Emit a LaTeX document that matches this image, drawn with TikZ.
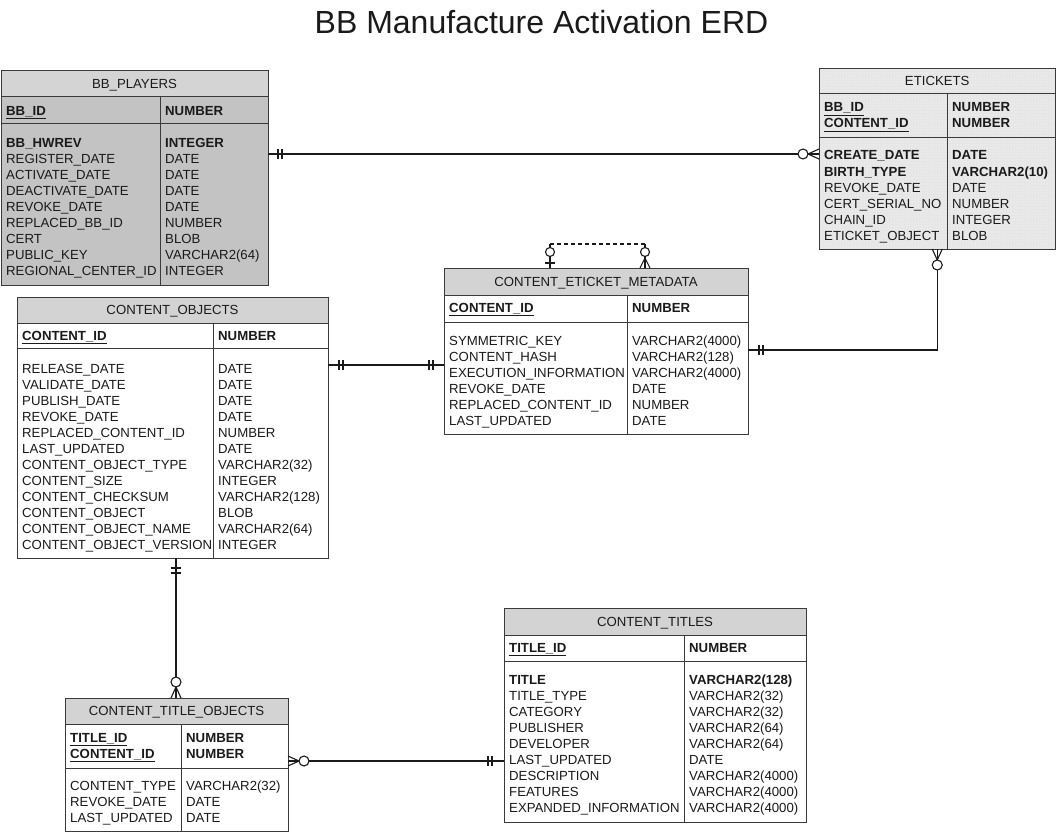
\documentclass[tikz,border=0pt]{standalone}
\usepackage{fontspec}
\setmainfont{Liberation Sans}
\usetikzlibrary{patterns,calc}
\definecolor{hdrgray}{HTML}{D3D3D3}
\definecolor{bpbody}{HTML}{C3C3C3}
\definecolor{bphdr}{HTML}{D4D4D4}
\definecolor{etfill}{HTML}{E6E6E6}
\definecolor{border}{HTML}{3A3A3A}
\definecolor{ink}{HTML}{1A1A1A}
\tikzset{
  tblbox/.style={rectangle, anchor=north west, inner sep=0pt, outer sep=0pt, draw=none},
  frame/.style={draw=border, line width=1pt},
  fld/.style={anchor=base west, inner sep=0pt, text=ink, font=\fontsize{13.2}{15}\selectfont},
  fldb/.style={fld, font=\fontsize{13.2}{15}\selectfont\bfseries},
  ttl/.style={anchor=base, inner sep=0pt, text=ink, font=\fontsize{13.2}{15}\selectfont},
  rel/.style={draw=ink, line width=1.1pt},
  ring/.style={rel, fill=white},
  selfdash/.style={rel, dash pattern=on 4pt off 3pt}
}
\begin{document}
\begin{tikzpicture}[x=1pt,y=-1pt]
\useasboundingbox[fill=white] (0,0) rectangle (1057,832);

\node[anchor=base, inner sep=0pt, text=ink, font=\fontsize{32}{38}\selectfont] (title) at (541.5,34) {BB Manufacture Activation ERD};

% ---------------- BB_PLAYERS ----------------
\node[tblbox, fill=bpbody, minimum width=267pt, minimum height=214pt] (bp) at (1,71) {};
\fill[bphdr] (1,71) rectangle (268,97);
\draw[frame] (1,97) -- (268,97) (1,124) -- (268,124) (160,97) -- (160,285);
\draw[frame] (bp.north west) rectangle (bp.south east);
\node[ttl] (bp-title) at (134.5,89) {BB\_PLAYERS};
\node[fldb] (bp-k0) at (6,115.5) {\underline{BB\_ID}};
\node[fldb] (bp-kt0) at (165,115.5) {NUMBER};
\node[fldb] (bp-b0) at (6,147) {BB\_HWREV};
\node[fldb] (bp-bt0) at (165,147) {INTEGER};
\foreach \n/\t [count=\i from 1] in {REGISTER\_DATE/DATE, ACTIVATE\_DATE/DATE, DEACTIVATE\_DATE/DATE, REVOKE\_DATE/DATE, REPLACED\_BB\_ID/NUMBER, CERT/BLOB, PUBLIC\_KEY/VARCHAR2(64), REGIONAL\_CENTER\_ID/INTEGER}{
  \node[fld] (bp-n\i) at (6,{147+16*\i}) {\n};
  \node[fld] (bp-t\i) at (165,{147+16*\i}) {\t};
}

% ---------------- ETICKETS ----------------
\node[tblbox, fill=etfill, minimum width=236.5pt, minimum height=180pt] (et) at (819,69) {};
\fill[pattern=dots, pattern color=white] (819,69) rectangle (1055.5,249);
\draw[frame] (819,94) -- (1055.5,94) (819,138) -- (1055.5,138) (947,94) -- (947,249);
\draw[frame] (et.north west) rectangle (et.south east);
\node[ttl] (et-title) at (937.25,86) {ETICKETS};
\node[fldb] (et-k0) at (824,112) {\underline{BB\_ID}};
\node[fldb] (et-kt0) at (952,112) {NUMBER};
\node[fldb] (et-k1) at (824,128) {\underline{CONTENT\_ID}};
\node[fldb] (et-kt1) at (952,128) {NUMBER};
\node[fldb] (et-b0) at (824,160) {CREATE\_DATE};
\node[fldb] (et-bt0) at (952,160) {DATE};
\node[fldb] (et-b1) at (824,176) {BIRTH\_TYPE};
\node[fldb] (et-bt1) at (952,176) {VARCHAR2(10)};
\foreach \n/\t [count=\i from 2] in {REVOKE\_DATE/DATE, CERT\_SERIAL\_NO/NUMBER, CHAIN\_ID/INTEGER, ETICKET\_OBJECT/BLOB}{
  \node[fld] (et-n\i) at (824,{160+16*\i}) {\n};
  \node[fld] (et-t\i) at (952,{160+16*\i}) {\t};
}

% ---------------- CONTENT_ETICKET_METADATA ----------------
\node[tblbox, fill=white, minimum width=304pt, minimum height=166pt] (cm) at (444,268) {};
\fill[hdrgray] (444,268) rectangle (748,295);
\draw[frame] (444,295) -- (748,295) (444,322) -- (748,322) (627,295) -- (627,434);
\draw[frame] (cm.north west) rectangle (cm.south east);
\node[ttl] (cm-title) at (596,286) {CONTENT\_ETICKET\_METADATA};
\node[fldb] (cm-k0) at (449,312.5) {\underline{CONTENT\_ID}};
\node[fldb] (cm-kt0) at (632,312.5) {NUMBER};
\foreach \n/\t [count=\i from 0] in {SYMMETRIC\_KEY/VARCHAR2(4000), CONTENT\_HASH/VARCHAR2(128), EXECUTION\_INFORMATION/VARCHAR2(4000), REVOKE\_DATE/DATE, REPLACED\_CONTENT\_ID/NUMBER, LAST\_UPDATED/DATE}{
  \node[fld] (cm-n\i) at (449,{345+16*\i}) {\n};
  \node[fld] (cm-t\i) at (632,{345+16*\i}) {\t};
}

% ---------------- CONTENT_OBJECTS ----------------
\node[tblbox, fill=white, minimum width=311pt, minimum height=261pt] (co) at (17,297) {};
\fill[hdrgray] (17,297) rectangle (328,323);
\draw[frame] (17,323) -- (328,323) (17,348) -- (328,348) (213,323) -- (213,558);
\draw[frame] (co.north west) rectangle (co.south east);
\node[ttl] (co-title) at (172.5,314.5) {CONTENT\_OBJECTS};
\node[fldb] (co-k0) at (22,340.5) {\underline{CONTENT\_ID}};
\node[fldb] (co-kt0) at (218,340.5) {NUMBER};
\foreach \n/\t [count=\i from 0] in {RELEASE\_DATE/DATE, VALIDATE\_DATE/DATE, PUBLISH\_DATE/DATE, REVOKE\_DATE/DATE, REPLACED\_CONTENT\_ID/NUMBER, LAST\_UPDATED/DATE, CONTENT\_OBJECT\_TYPE/VARCHAR2(32), CONTENT\_SIZE/INTEGER, CONTENT\_CHECKSUM/VARCHAR2(128), CONTENT\_OBJECT/BLOB, CONTENT\_OBJECT\_NAME/VARCHAR2(64), CONTENT\_OBJECT\_VERSION/INTEGER}{
  \node[fld] (co-n\i) at (22,{373+16*\i}) {\n};
  \node[fld] (co-t\i) at (218,{373+16*\i}) {\t};
}

% ---------------- CONTENT_TITLES ----------------
\node[tblbox, fill=white, minimum width=302pt, minimum height=214pt] (ct) at (504,608) {};
\fill[hdrgray] (504,608) rectangle (806,635);
\draw[frame] (504,635) -- (806,635) (504,661) -- (806,661) (684,635) -- (684,822);
\draw[frame] (ct.north west) rectangle (ct.south east);
\node[ttl] (ct-title) at (655,626) {CONTENT\_TITLES};
\node[fldb] (ct-k0) at (509,652.5) {\underline{TITLE\_ID}};
\node[fldb] (ct-kt0) at (689,652.5) {NUMBER};
\node[fldb] (ct-b0) at (509,684.5) {TITLE};
\node[fldb] (ct-bt0) at (689,684.5) {VARCHAR2(128)};
\foreach \n/\t [count=\i from 1] in {TITLE\_TYPE/VARCHAR2(32), CATEGORY/VARCHAR2(32), PUBLISHER/VARCHAR2(64), DEVELOPER/VARCHAR2(64), LAST\_UPDATED/DATE, DESCRIPTION/VARCHAR2(4000), FEATURES/VARCHAR2(4000), EXPANDED\_INFORMATION/VARCHAR2(4000)}{
  \node[fld] (ct-n\i) at (509,{684.5+16*\i}) {\n};
  \node[fld] (ct-t\i) at (689,{684.5+16*\i}) {\t};
}

% ---------------- CONTENT_TITLE_OBJECTS ----------------
\node[tblbox, fill=white, minimum width=223pt, minimum height=133pt] (cto) at (65,698) {};
\fill[hdrgray] (65,698) rectangle (288,724);
\draw[frame] (65,724) -- (288,724) (65,768) -- (288,768) (181,724) -- (181,831);
\draw[frame] (cto.north west) rectangle (cto.south east);
\node[ttl] (cto-title) at (176.5,715.5) {CONTENT\_TITLE\_OBJECTS};
\node[fldb] (cto-k0) at (70,742) {\underline{TITLE\_ID}};
\node[fldb] (cto-kt0) at (186,742) {NUMBER};
\node[fldb] (cto-k1) at (70,758) {\underline{CONTENT\_ID}};
\node[fldb] (cto-kt1) at (186,758) {NUMBER};
\foreach \n/\t [count=\i from 0] in {CONTENT\_TYPE/VARCHAR2(32), REVOKE\_DATE/DATE, LAST\_UPDATED/DATE}{
  \node[fld] (cto-n\i) at (70,{790+16*\i}) {\n};
  \node[fld] (cto-t\i) at (186,{790+16*\i}) {\t};
}

% ---------------- Relationships ----------------
% BB_PLAYERS -> ETICKETS
\coordinate (r1a) at ($(bp.north east)+(0,83)$);
\coordinate (r1b) at ($(et.north west)+(0,85)$);
\draw[rel] (r1a) -- (r1b);
\draw[rel] ($(r1a)+(10,-5)$) -- ++(0,10) ($(r1a)+(14,-5)$) -- ++(0,10);
\draw[rel] ($(r1b)+(0,-5)$) -- ($(r1b)+(-11,0)$) -- ($(r1b)+(0,5)$);
\draw[ring] ($(r1b)+(-16,0)$) circle (5pt);

% CONTENT_OBJECTS -> CONTENT_ETICKET_METADATA
\coordinate (r2a) at ($(co.north east)+(0,68)$);
\coordinate (r2b) at ($(cm.north west)+(0,97)$);
\draw[rel] (r2a) -- (r2b);
\draw[rel] ($(r2a)+(11,-5)$) -- ++(0,10) ($(r2a)+(15,-5)$) -- ++(0,10);
\draw[rel] ($(r2b)+(-15,-5)$) -- ++(0,10) ($(r2b)+(-11,-5)$) -- ++(0,10);

% CONTENT_ETICKET_METADATA -> ETICKETS
\coordinate (r3a) at ($(cm.north east)+(0,82)$);
\coordinate (r3b) at (et.south);
\draw[rel] (r3a) -| (r3b);
\draw[rel] ($(r3a)+(11,-5)$) -- ++(0,10) ($(r3a)+(15,-5)$) -- ++(0,10);
\draw[rel] ($(r3b)+(-5,0)$) -- ($(r3b)+(0,11)$) -- ($(r3b)+(5,0)$);
\draw[ring] ($(r3b)+(0,16)$) circle (5pt);

% CONTENT_OBJECTS -> CONTENT_TITLE_OBJECTS
\coordinate (r4a) at ($(co.south west)+(159,0)$);
\coordinate (r4b) at ($(cto.north west)+(111,0)$);
\draw[rel] (r4a) -- (r4b);
\draw[rel] ($(r4a)+(-5,10)$) -- ++(10,0) ($(r4a)+(-5,15)$) -- ++(10,0);
\draw[rel] ($(r4b)+(-5,0)$) -- ($(r4b)+(0,-11)$) -- ($(r4b)+(5,0)$);
\draw[ring] ($(r4b)+(0,-16)$) circle (5pt);

% CONTENT_TITLES -> CONTENT_TITLE_OBJECTS
\coordinate (r5a) at ($(cto.north east)+(0,63)$);
\coordinate (r5b) at ($(ct.north west)+(0,153)$);
\draw[rel] (r5a) -- (r5b);
\draw[rel] ($(r5a)+(0,-5)$) -- ($(r5a)+(11,0)$) -- ($(r5a)+(0,5)$);
\draw[ring] ($(r5a)+(16,0)$) circle (5pt);
\draw[rel] ($(r5b)+(-16,-5)$) -- ++(0,10) ($(r5b)+(-12,-5)$) -- ++(0,10);

% CONTENT_ETICKET_METADATA self relationship
\coordinate (s1) at ($(cm.north west)+(106,0)$);
\coordinate (s2) at ($(cm.north west)+(201,0)$);
\draw[rel] (s1) -- ++(0,-24) (s2) -- ++(0,-24);
\draw[selfdash] ($(s1)+(0,-24)$) -- ($(s2)+(0,-24)$);
\draw[rel] ($(s1)+(-5,-5)$) -- ++(10,0);
\draw[rel] ($(s2)+(-5,0)$) -- ($(s2)+(0,-10)$) -- ($(s2)+(5,0)$);
\draw[ring] ($(s1)+(0,-16)$) circle (4.5pt);
\draw[ring] ($(s2)+(0,-16)$) circle (4.5pt);
\end{tikzpicture}
\end{document}
